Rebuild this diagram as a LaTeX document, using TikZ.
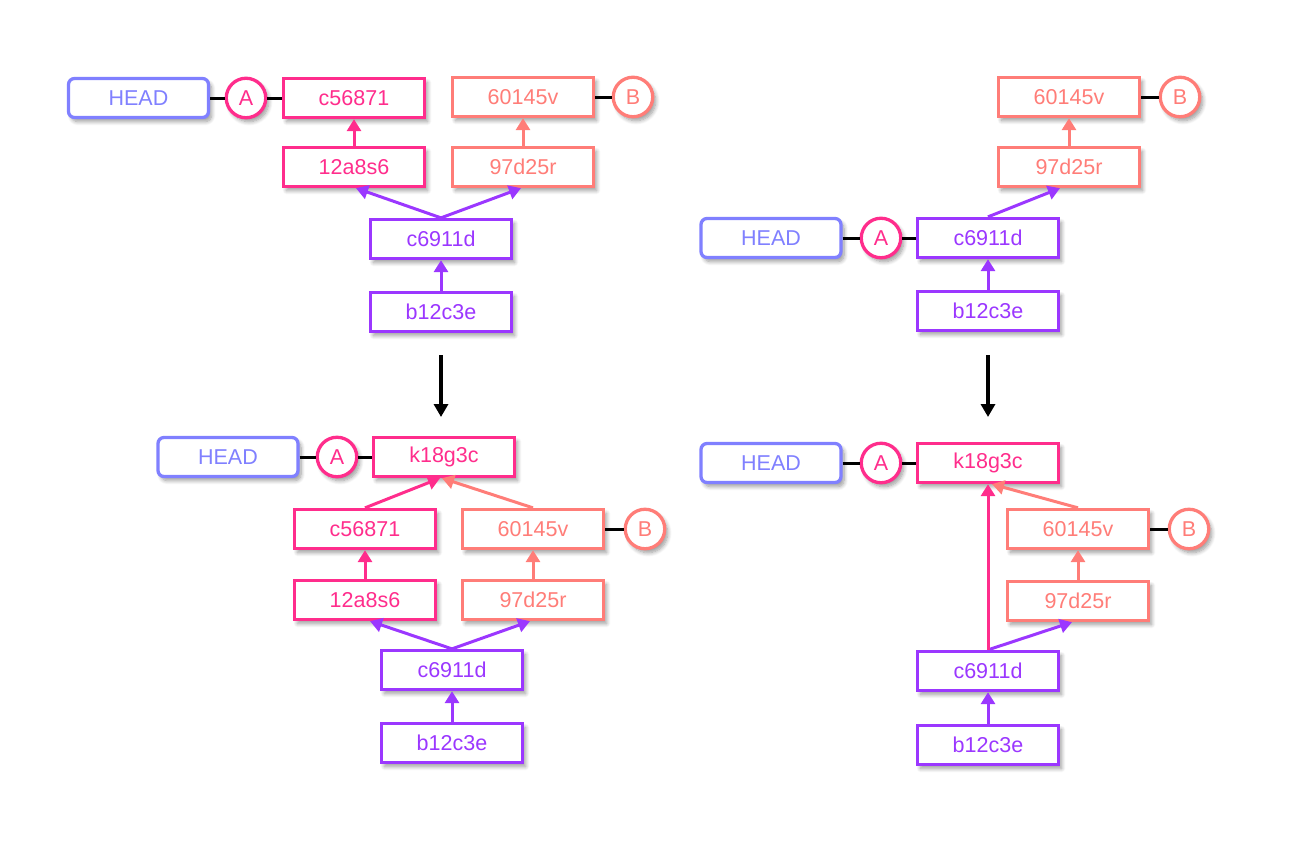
\documentclass[tikz,border=0pt]{standalone}
\usepackage{fontspec}
\setmainfont{Liberation Sans}
\usetikzlibrary{arrows.meta,shadows.blur}
\definecolor{headblue}{RGB}{128,128,255}
\definecolor{brA}{RGB}{255,45,140}
\definecolor{brB}{RGB}{255,125,120}
\definecolor{base}{RGB}{155,55,255}
\tikzset{
  sh/.style={blur shadow={shadow xshift=3pt,shadow yshift=-4pt,shadow opacity=40,shadow blur steps=8,shadow blur radius=4pt}},
  commit/.style={draw=#1,text=#1,fill=white,line width=3.3pt,minimum width=141pt,minimum height=39pt,inner sep=0pt,sh},
  headbox/.style={draw=headblue,text=headblue,fill=white,line width=3.3pt,rounded corners=6pt,minimum width=140pt,minimum height=39pt,inner sep=0pt,sh},
  ref/.style={circle,draw=#1,text=#1,fill=white,line width=3.3pt,minimum size=39.5pt,inner sep=0pt,sh},
  link/.style={line width=3pt,black},
  par/.style={line width=3pt,draw=#1,-{Triangle[length=12pt,width=14pt]}},
  step arrow/.style={line width=4pt,black,-{Triangle[length=13pt,width=14pt]}},
}
\begin{document}
\begin{tikzpicture}[x=1pt,y=-1pt,font=\fontsize{21.5}{25}\selectfont]
\useasboundingbox (0,0) rectangle (1311,841);

% ---- top left: before ----
\node[headbox] (h1) at (138.5,98) {HEAD};
\node[ref=brA] (a1) at (246,98) {A};
\node[commit=brA] (c1) at (354,98) {c56871};
\node[commit=brA] (d1) at (354,167) {12a8s6};
\node[commit=brB] (e1) at (523,97) {60145v};
\node[ref=brB] (b1) at (633,97) {B};
\node[commit=brB] (f1) at (523,167) {97d25r};
\node[commit=base] (g1) at (441,239) {c6911d};
\node[commit=base] (k1) at (441,312) {b12c3e};
\draw[link] (h1) -- (a1);
\draw[link] (a1) -- (c1);
\draw[link] (e1) -- (b1);
\draw[par=brA] (d1) -- (c1);
\draw[par=brB] (f1) -- (e1);
\draw[par=base] (g1.north) -- ([xshift=2pt]d1.south);
\draw[par=base] (g1.north) -- ([xshift=-2pt]f1.south);
\draw[par=base] (k1) -- (g1);

\coordinate (s1) at (441,355);
\coordinate (t1) at (441,417);
\draw[step arrow] (s1) -- (t1);

% ---- bottom left: merge commit ----
\node[headbox] (h2) at (228,457) {HEAD};
\node[ref=brA] (a2) at (337,457) {A};
\node[commit=brA] (m2) at (444,457) {k18g3c};
\node[commit=brA] (c2) at (365,529) {c56871};
\node[commit=brA] (d2) at (365,600) {12a8s6};
\node[commit=brB] (e2) at (533,529) {60145v};
\node[ref=brB] (b2) at (645,529) {B};
\node[commit=brB] (f2) at (533,600) {97d25r};
\node[commit=base] (g2) at (452,670) {c6911d};
\node[commit=base] (k2) at (452,743) {b12c3e};
\draw[link] (h2) -- (a2);
\draw[link] (a2) -- (m2);
\draw[link] (e2) -- (b2);
\draw[par=brA] (c2.north) -- ([xshift=-4pt]m2.south);
\draw[par=brB] (e2.north) -- ([xshift=-2pt]m2.south);
\draw[par=brA] (d2) -- (c2);
\draw[par=brB] (f2) -- (e2);
\draw[par=base] (g2.north) -- ([xshift=5pt]d2.south);
\draw[par=base] (g2.north) -- ([xshift=-3pt]f2.south);
\draw[par=base] (k2) -- (g2);

% ---- top right: before ----
\node[commit=brB] (e3) at (1069,97) {60145v};
\node[ref=brB] (b3) at (1180,97) {B};
\node[commit=brB] (f3) at (1069,167) {97d25r};
\node[headbox] (h3) at (771,238) {HEAD};
\node[ref=brA] (a3) at (881,238) {A};
\node[commit=base] (g3) at (988,238) {c6911d};
\node[commit=base] (k3) at (988,311) {b12c3e};
\draw[link] (e3) -- (b3);
\draw[link] (h3) -- (a3);
\draw[link] (a3) -- (g3);
\draw[par=brB] (f3) -- (e3);
\draw[par=base] (g3.north) -- ([xshift=-9pt]f3.south);
\draw[par=base] (k3) -- (g3);

\coordinate (s3) at (988,355);
\coordinate (t3) at (988,417);
\draw[step arrow] (s3) -- (t3);

% ---- bottom right: merge commit ----
\node[headbox] (h4) at (771,463) {HEAD};
\node[ref=brA] (a4) at (881,463) {A};
\node[commit=brA] (m4) at (988,463) {k18g3c};
\node[commit=brB] (e4) at (1078,529) {60145v};
\node[ref=brB] (b4) at (1189,529) {B};
\node[commit=brB] (f4) at (1078,601) {97d25r};
\node[commit=base] (g4) at (988,671) {c6911d};
\node[commit=base] (k4) at (988,745) {b12c3e};
\draw[link] (h4) -- (a4);
\draw[link] (a4) -- (m4);
\draw[link] (e4) -- (b4);
\draw[par=base] (g4.north) -- ([xshift=-6pt]f4.south);
\draw[par=brA] (g4.north) -- (m4.south);
\draw[par=brB] (e4.north) -- ([xshift=4pt]m4.south);
\draw[par=brB] (f4) -- (e4);
\draw[par=base] (k4) -- (g4);
\end{tikzpicture}
\end{document}
